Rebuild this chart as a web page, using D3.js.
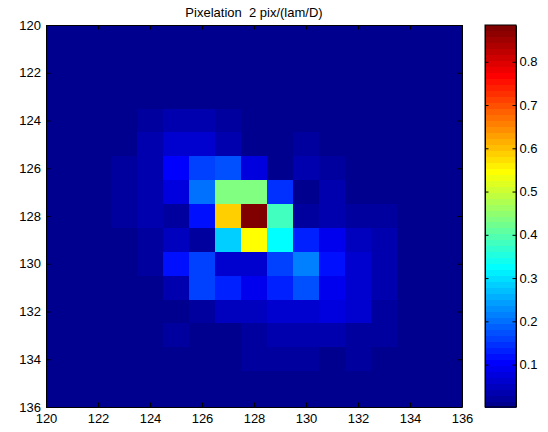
<!DOCTYPE html>
<html>
<head>
<meta charset="utf-8">
<script src="https://cdn.jsdelivr.net/npm/d3@7"></script>
<style>
  html, body { margin: 0; padding: 0; background: #fff; }
  svg { display: block; }
  text { font-family: "Liberation Sans", Arial, Helvetica, sans-serif; fill: #000; }
</style>
</head>
<body>
<svg id="chart" width="548" height="432"></svg>
<script>
// ---------- data ----------
const title = "Pixelation  2 pix/(lam/D)";
const xCenters = [120,121,122,123,124,125,126,127,128,129,130,131,132,133,134,135,136];
const yCenters = [120,121,122,123,124,125,126,127,128,129,130,131,132,133,134,135,136];
const xTicks = [120,122,124,126,128,130,132,134,136];
const yTicks = [120,122,124,126,128,130,132,134,136];
const cbarTicks = [0.1,0.2,0.3,0.4,0.5,0.6,0.7,0.8];

// intensity rows (y = 120 .. 136), each with columns x = 120 .. 136
const z = [
  [0.004,0.005,0.005,0.006,0.006,0.007,0.006,0.006,0.005,0.005,0.005,0.004,0.004,0.004,0.003,0.003,0.002],
  [0.005,0.005,0.006,0.006,0.007,0.007,0.007,0.006,0.006,0.006,0.005,0.005,0.005,0.004,0.004,0.003,0.003],
  [0.005,0.006,0.006,0.007,0.008,0.008,0.008,0.007,0.007,0.006,0.006,0.006,0.005,0.005,0.004,0.004,0.003],
  [0.005,0.006,0.007,0.008,0.009,0.010,0.010,0.009,0.008,0.007,0.007,0.006,0.006,0.005,0.005,0.004,0.004],
  [0.006,0.007,0.008,0.011,0.018,0.030,0.030,0.022,0.010,0.008,0.008,0.007,0.007,0.006,0.005,0.005,0.004],
  [0.006,0.007,0.009,0.012,0.037,0.062,0.060,0.036,0.010,0.009,0.022,0.012,0.009,0.007,0.006,0.005,0.004],
  [0.007,0.008,0.011,0.022,0.038,0.105,0.160,0.175,0.078,0.009,0.030,0.022,0.012,0.010,0.007,0.006,0.005],
  [0.007,0.009,0.012,0.024,0.036,0.078,0.205,0.436,0.436,0.147,0.012,0.038,0.013,0.009,0.007,0.006,0.005],
  [0.007,0.009,0.012,0.024,0.030,0.028,0.122,0.590,0.885,0.383,0.024,0.042,0.022,0.016,0.010,0.007,0.005],
  [0.006,0.008,0.010,0.013,0.024,0.050,0.022,0.285,0.548,0.326,0.133,0.092,0.050,0.036,0.012,0.007,0.005],
  [0.006,0.007,0.009,0.011,0.021,0.119,0.155,0.065,0.070,0.155,0.212,0.119,0.058,0.035,0.012,0.007,0.005],
  [0.005,0.007,0.008,0.009,0.011,0.037,0.160,0.135,0.086,0.138,0.175,0.092,0.064,0.036,0.012,0.007,0.005],
  [0.005,0.006,0.007,0.008,0.009,0.012,0.022,0.050,0.055,0.064,0.064,0.078,0.058,0.025,0.012,0.006,0.005],
  [0.005,0.006,0.007,0.009,0.011,0.028,0.010,0.008,0.022,0.030,0.042,0.030,0.025,0.020,0.010,0.006,0.004],
  [0.004,0.005,0.006,0.008,0.009,0.010,0.012,0.014,0.025,0.025,0.025,0.012,0.025,0.010,0.008,0.005,0.004],
  [0.004,0.005,0.005,0.006,0.007,0.008,0.009,0.010,0.011,0.011,0.012,0.012,0.010,0.008,0.007,0.005,0.004],
  [0.003,0.004,0.005,0.005,0.006,0.006,0.007,0.008,0.008,0.008,0.008,0.007,0.007,0.006,0.005,0.004,0.003]
];

// ---------- MATLAB jet(64) ----------
function jet64() {
  const m = 64, n = 16;
  const u = [];
  for (let i = 1; i <= n; i++) u.push(i / n);
  for (let i = 1; i < n; i++) u.push(1);
  for (let i = n; i >= 1; i--) u.push(i / n);
  const g = u.map((_, i) => 8 + 1 + i);
  const R = new Array(m).fill(0), G = new Array(m).fill(0), B = new Array(m).fill(0);
  u.forEach((val, i) => {
    const gi = g[i], ri = gi + n, bi = gi - n;
    if (gi >= 1 && gi <= m) G[gi - 1] = val;
    if (ri >= 1 && ri <= m) R[ri - 1] = val;
    if (bi >= 1 && bi <= m) B[bi - 1] = val;
  });
  return d3.range(m).map(i => d3.rgb(R[i] * 255, G[i] * 255, B[i] * 255).formatHex());
}
const jet = jet64();

// ---------- layout ----------
const svg = d3.select("#chart");
const x = d3.scaleLinear().domain([120, 136]).range([46, 462]);
const y = d3.scaleLinear().domain([120, 136]).range([25, 407]);

const cells = [];
yCenters.forEach((yc, i) => xCenters.forEach((xc, j) => cells.push({ xc, yc, v: z[i][j] })));
const [cmin, cmax] = d3.extent(cells, d => d.v);
const colorIndex = d3.scaleQuantize().domain([cmin, cmax]).range(d3.range(64));
const color = v => jet[colorIndex(v)];

svg.append("defs").append("clipPath").attr("id", "plotclip")
  .append("rect")
  .attr("x", x(120)).attr("y", y(120))
  .attr("width", x(136) - x(120)).attr("height", y(136) - y(120));

svg.append("g").attr("clip-path", "url(#plotclip)")
  .selectAll("rect").data(cells).join("rect")
  .attr("x", d => x(d.xc - 0.5))
  .attr("y", d => y(d.yc - 0.5))
  .attr("width", d => x(d.xc + 0.5) - x(d.xc - 0.5) + 0.4)
  .attr("height", d => y(d.yc + 0.5) - y(d.yc - 0.5) + 0.4)
  .attr("fill", d => color(d.v))
  .attr("shape-rendering", "crispEdges");

// axes
const tk = 4.5;
const fontSize = 13;
function styleAxis(g) {
  g.selectAll("path.domain").attr("stroke", "#000").attr("stroke-width", 1);
  g.selectAll(".tick line").attr("stroke", "#000").attr("stroke-width", 1);
  g.selectAll(".tick text").style("font-size", fontSize + "px")
    .style("font-family", '"Liberation Sans", Arial, sans-serif').attr("fill", "#000");
  g.attr("font-family", null).attr("font-size", null);
}

svg.append("g").attr("transform", `translate(0,${y(136)})`)
  .call(d3.axisBottom(x).tickValues(xTicks).tickFormat(d3.format("d"))
    .tickSizeInner(-tk).tickSizeOuter(0).tickPadding(6.5))
  .call(styleAxis);

svg.append("g").attr("transform", `translate(0,${y(120)})`)
  .call(d3.axisTop(x).tickValues(xTicks).tickFormat("")
    .tickSizeInner(-tk).tickSizeOuter(0))
  .call(styleAxis);

svg.append("g").attr("transform", `translate(${x(120)},0)`)
  .call(d3.axisLeft(y).tickValues(yTicks).tickFormat(d3.format("d"))
    .tickSizeInner(-tk).tickSizeOuter(0).tickPadding(5))
  .call(styleAxis);

svg.append("g").attr("transform", `translate(${x(136)},0)`)
  .call(d3.axisRight(y).tickValues(yTicks).tickFormat("")
    .tickSizeInner(-tk).tickSizeOuter(0))
  .call(styleAxis);

// title (keep the double space)
svg.append("text")
  .attr("x", (x(120) + x(136)) / 2)
  .attr("y", 17)
  .attr("text-anchor", "middle")
  .attr("xml:space", "preserve")
  .style("white-space", "pre")
  .style("font-size", "13px")
  .text(title);

// ---------- colorbar ----------
const cbX0 = 485, cbX1 = 516;
const cy = d3.scaleLinear().domain([cmin, cmax]).range([y(136), y(120)]);
const bandEdges = d3.range(65).map(i => cmin + (cmax - cmin) * i / 64);
svg.append("g").selectAll("rect").data(d3.range(64)).join("rect")
  .attr("x", cbX0).attr("width", cbX1 - cbX0)
  .attr("y", i => cy(bandEdges[i + 1]))
  .attr("height", i => cy(bandEdges[i]) - cy(bandEdges[i + 1]) + 0.5)
  .attr("fill", i => jet[i])
  .attr("shape-rendering", "crispEdges");

svg.append("g").attr("transform", `translate(${cbX1},0)`)
  .call(d3.axisRight(cy).tickValues(cbarTicks).tickFormat(d3.format(".1f"))
    .tickSizeInner(-3.5).tickSizeOuter(0).tickPadding(3.5))
  .call(styleAxis);
svg.append("g").attr("transform", `translate(${cbX0},0)`)
  .call(d3.axisLeft(cy).tickValues(cbarTicks).tickFormat("")
    .tickSizeInner(-3.5).tickSizeOuter(0))
  .call(styleAxis);
svg.append("rect")
  .attr("x", cbX0).attr("y", y(120))
  .attr("width", cbX1 - cbX0).attr("height", y(136) - y(120))
  .attr("fill", "none").attr("stroke", "#000").attr("stroke-width", 1);
</script>
</body>
</html>
